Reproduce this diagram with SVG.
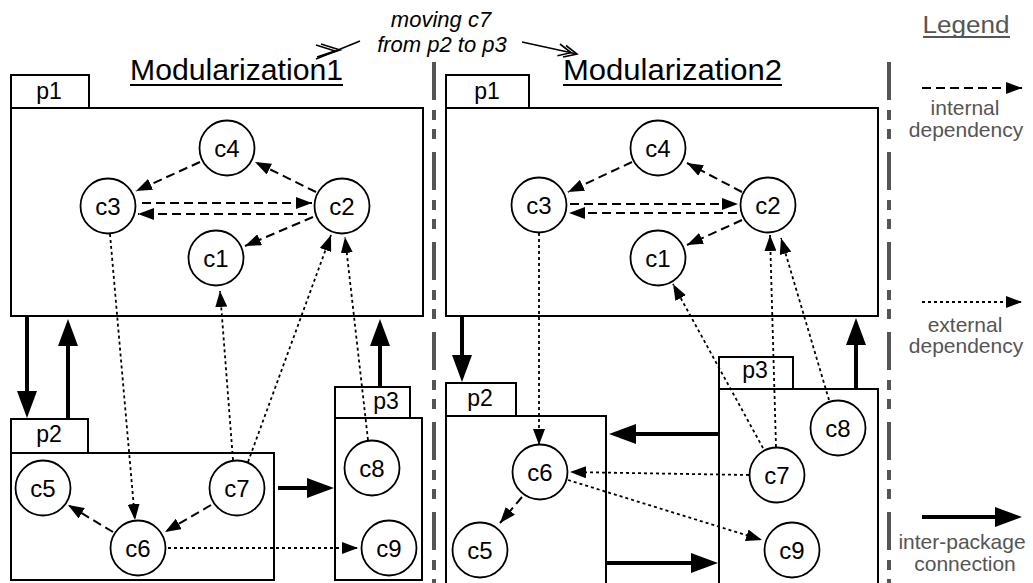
<svg xmlns="http://www.w3.org/2000/svg" width="1033" height="583" viewBox="0 0 1033 583">
<defs>
<style>
.box{fill:none;stroke:#000;stroke-width:2}
.node circle{fill:#fff;stroke:#000;stroke-width:1.8}
text{font-family:"Liberation Sans",Arial,sans-serif}
.nl{font-size:24px;text-anchor:middle;fill:#000}
.pl{font-size:23px;text-anchor:middle;fill:#000}
.title{font-size:29px;text-anchor:middle;fill:#000}
.note{font-size:22px;font-style:italic;text-anchor:middle;fill:#000}
.leg{font-size:21px;text-anchor:middle;fill:#555}
.dash{fill:none;stroke:#000;stroke-width:2;stroke-dasharray:9 5;marker-end:url(#ah)}
.dot{fill:none;stroke:#000;stroke-width:1.8;stroke-dasharray:3 3;marker-end:url(#ah)}
.thick{fill:none;stroke:#000;stroke-width:4;marker-end:url(#th)}
.sep{fill:none;stroke:#555;stroke-width:4;stroke-dasharray:38 10 10 9 10 13}
.ul{stroke:#000;stroke-width:2}
</style>
<marker id="ah" markerUnits="userSpaceOnUse" markerWidth="16" markerHeight="12" refX="16" refY="6" orient="auto"><path d="M0,0 L16,6 L0,12 z" fill="#000"/></marker>
<marker id="th" markerUnits="userSpaceOnUse" markerWidth="27" markerHeight="20" refX="15" refY="10" orient="auto"><path d="M0,0 L27,10 L0,20 z" fill="#000"/></marker>
</defs>
<rect width="1033" height="583" fill="#fff"/>

<!-- separators -->
<line class="sep" x1="434" y1="62" x2="434" y2="583"/>
<line class="sep" x1="889" y1="62" x2="889" y2="583"/>

<!-- titles / annotation -->
<text class="title" x="236.5" y="80" textLength="213" lengthAdjust="spacingAndGlyphs">Modularization1</text>
<line class="ul" x1="130" y1="85" x2="343" y2="85"/>
<text class="title" x="672.5" y="80" textLength="219" lengthAdjust="spacingAndGlyphs">Modularization2</text>
<line class="ul" x1="563" y1="85" x2="782" y2="85"/>
<text class="note" x="441" y="27">moving c7</text>
<text class="note" x="442" y="52">from p2 to p3</text>
<g fill="none" stroke="#000" stroke-width="1.6">
<path d="M316,59 L360,41"/>
<path d="M316,45 L335,51 L317,57"/>
<path d="M321,44 L340,50 L322,56"/>
<path d="M522,42 L577,54"/>
<path d="M566,45.5 L577,54 L563,57"/>
<path d="M560,44 L571,52.7 L557.4,55.8"/>
</g>

<!-- packages -->
<g id="L_p1"><rect class="box" x="11" y="75" width="78" height="33"/><rect class="box" x="11" y="108" width="412" height="208"/><text class="pl" x="49" y="99">p1</text></g>
<g id="L_p2"><rect class="box" x="11" y="419" width="77" height="34"/><rect class="box" x="11" y="453" width="263" height="127"/><text class="pl" x="49" y="442">p2</text></g>
<g id="L_p3"><rect class="box" x="335" y="387" width="75" height="31"/><rect class="box" x="335" y="418" width="87" height="162"/><text class="pl" x="386" y="409">p3</text></g>
<g id="R_p1"><rect class="box" x="446" y="75" width="83" height="33"/><rect class="box" x="446" y="108" width="432" height="208"/><text class="pl" x="487" y="99">p1</text></g>
<g id="R_p2"><rect class="box" x="446" y="383" width="70" height="33"/><path class="box" d="M446,590 V416 H606 V590"/><text class="pl" x="480" y="406">p2</text></g>
<g id="R_p3"><rect class="box" x="719" y="357" width="74" height="32"/><path class="box" d="M719,590 V389 H878 V590"/><text class="pl" x="755" y="378">p3</text></g>

<!-- connectors -->
<g id="connectors">
<line class="dash" x1="200" y1="162" x2="136" y2="191"/>
<line class="dash" x1="316" y1="192" x2="255" y2="162"/>
<line class="dash" x1="142" y1="203" x2="312" y2="203"/>
<line class="dash" x1="307" y1="214" x2="138" y2="214"/>
<line class="dash" x1="313" y1="217" x2="245" y2="246"/>
<line class="dash" x1="211" y1="505" x2="165" y2="532"/>
<line class="dash" x1="113" y1="532" x2="68" y2="505"/>
<line class="dot" x1="110" y1="234" x2="135" y2="520"/>
<line class="dot" x1="233" y1="460" x2="220" y2="291"/>
<line class="dot" x1="248" y1="462" x2="331" y2="235"/>
<line class="dot" x1="368" y1="440" x2="345" y2="237"/>
<line class="dot" x1="168" y1="548" x2="358" y2="548"/>

<line class="dash" x1="632" y1="162" x2="568" y2="192"/>
<line class="dash" x1="742" y1="192" x2="687" y2="163"/>
<line class="dash" x1="570" y1="204" x2="738" y2="204"/>
<line class="dash" x1="737" y1="213" x2="569" y2="213"/>
<line class="dash" x1="742" y1="220" x2="687" y2="245"/>
<line class="dash" x1="522" y1="497" x2="500" y2="523"/>
<line class="dot" x1="539" y1="233" x2="539" y2="445"/>
<line class="dot" x1="749" y1="475" x2="570" y2="472"/>
<line class="dot" x1="568" y1="480" x2="762" y2="540"/>
<line class="dot" x1="763" y1="448" x2="673" y2="284"/>
<line class="dot" x1="776" y1="447" x2="770" y2="235"/>
<line class="dot" x1="829" y1="400" x2="781" y2="238"/>

<line class="thick" x1="27" y1="316" x2="27" y2="406"/>
<line class="thick" x1="68" y1="419" x2="68" y2="331"/>
<line class="thick" x1="380" y1="387" x2="380" y2="331"/>
<line class="thick" x1="278" y1="488" x2="322" y2="488"/>
<line class="thick" x1="462" y1="316" x2="462" y2="370"/>
<line class="thick" x1="856" y1="389" x2="856" y2="330"/>
<line class="thick" x1="719" y1="434" x2="621" y2="434"/>
<line class="thick" x1="607" y1="563" x2="706" y2="563"/>
</g>

<!-- nodes left -->
<g id="L_c1" class="node"><circle cx="216" cy="258" r="27.5"/><text class="nl" x="216" y="266.5">c1</text></g>
<g id="L_c2" class="node"><circle cx="342" cy="206" r="27.5"/><text class="nl" x="342" y="214.5">c2</text></g>
<g id="L_c3" class="node"><circle cx="108" cy="206" r="27.5"/><text class="nl" x="108" y="214.5">c3</text></g>
<g id="L_c4" class="node"><circle cx="227" cy="148" r="27.5"/><text class="nl" x="227" y="156.5">c4</text></g>
<g id="L_c5" class="node"><circle cx="43" cy="488" r="27.5"/><text class="nl" x="43" y="496.5">c5</text></g>
<g id="L_c6" class="node"><circle cx="138" cy="548" r="27.5"/><text class="nl" x="138" y="556.5">c6</text></g>
<g id="L_c7" class="node"><circle cx="237" cy="488" r="27.5"/><text class="nl" x="237" y="496.5">c7</text></g>
<g id="L_c8" class="node"><circle cx="372" cy="468" r="27.5"/><text class="nl" x="372" y="476.5">c8</text></g>
<g id="L_c9" class="node"><circle cx="389" cy="548" r="27.5"/><text class="nl" x="389" y="556.5">c9</text></g>

<!-- nodes right -->
<g id="R_c1" class="node"><circle cx="658" cy="258" r="27.5"/><text class="nl" x="658" y="266.5">c1</text></g>
<g id="R_c2" class="node"><circle cx="768" cy="205" r="27.5"/><text class="nl" x="768" y="213.5">c2</text></g>
<g id="R_c3" class="node"><circle cx="539" cy="205" r="27.5"/><text class="nl" x="539" y="213.5">c3</text></g>
<g id="R_c4" class="node"><circle cx="658" cy="148" r="27.5"/><text class="nl" x="658" y="156.5">c4</text></g>
<g id="R_c5" class="node"><circle cx="480" cy="550" r="27.5"/><text class="nl" x="480" y="558.5">c5</text></g>
<g id="R_c6" class="node"><circle cx="540" cy="472" r="27.5"/><text class="nl" x="540" y="480.5">c6</text></g>
<g id="R_c7" class="node"><circle cx="777" cy="475" r="27.5"/><text class="nl" x="777" y="483.5">c7</text></g>
<g id="R_c8" class="node"><circle cx="838" cy="428" r="27.5"/><text class="nl" x="838" y="436.5">c8</text></g>
<g id="R_c9" class="node"><circle cx="792" cy="550" r="27.5"/><text class="nl" x="792" y="558.5">c9</text></g>

<!-- legend -->
<g id="legend">
<text x="966" y="33" font-size="23" text-anchor="middle" fill="#555" textLength="87" lengthAdjust="spacingAndGlyphs">Legend</text>
<line x1="923" y1="37" x2="1010" y2="37" stroke="#555" stroke-width="2"/>
<line class="dash" x1="922" y1="88" x2="1022" y2="88"/>
<text class="leg" x="965" y="115">internal</text>
<text class="leg" x="966" y="137">dependency</text>
<line class="dot" x1="922" y1="302" x2="1022" y2="302"/>
<text class="leg" x="965" y="332">external</text>
<text class="leg" x="966" y="353">dependency</text>
<line class="thick" x1="922" y1="517" x2="1010" y2="517"/>
<text class="leg" x="962" y="549">inter-package</text>
<text class="leg" x="965" y="571">connection</text>
</g>
</svg>
